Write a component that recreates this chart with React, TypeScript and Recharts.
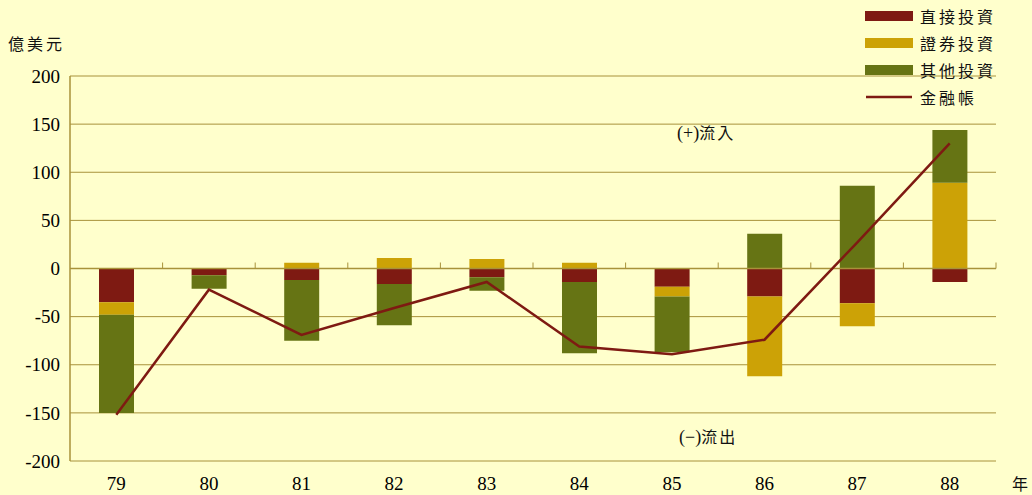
import {
    ComposedChart,
    Bar,
    Line,
    XAxis,
    YAxis,
    CartesianGrid,
    ReferenceLine
} from 'recharts';

const years = ['79', '80', '81', '82', '83', '84', '85', '86', '87', '88'];
const directInv = [-35, -7, -12, -16, -9, -14, -19, -29, -36, -14];
const portfolioInv = [-13, 0, 6, 11, 10, 6, -10, -83, -24, 89];
const otherInv = [-102, -14, -63, -43, -14, -74, -58, 36, 86, 55];
const financialAcct = [-152, -22, -69, -41, -14, -81, -89, -74, 27, 130];
const yTicks = [-200, -150, -100, -50, 0, 50, 100, 150, 200];

const BG = '#FFFFCC';
const RED = '#7E1A12';
const GOLD = '#CCA206';
const OLIVE = '#667414';
const GRID = '#A8923A';
const SERIF = "'Liberation Serif', 'Times New Roman', 'DejaVu Serif', serif";
const CJK = "'Noto Sans CJK TC', 'Noto Sans CJK SC', sans-serif";

const data = years.map((y, i) => ({
    year: y,
    direct: directInv[i],
    portfolio: portfolioInv[i],
    other: otherInv[i],
    total: financialAcct[i]
}));

const legendItems = [
    { label: '直接投資', color: RED, kind: 'rect' },
    { label: '證券投資', color: GOLD, kind: 'rect' },
    { label: '其他投資', color: OLIVE, kind: 'rect' },
    { label: '金融帳', color: RED, kind: 'line' }
];

function LegendBox() {
    return (
        <div style={{ position: 'absolute', left: 865, top: 2, display: 'flex', flexDirection: 'column' }}>
            {legendItems.map((it) => (
                <div key={it.label} style={{ display: 'flex', alignItems: 'center', height: 27 }}>
                    <svg width={55} height={14}>
                        {it.kind === 'rect' ? (
                            <rect x={0} y={2} width={48} height={10} fill={it.color} />
                        ) : (
                            <line x1={1} y1={7} x2={47} y2={7} stroke={it.color} strokeWidth={2.5} />
                        )}
                    </svg>
                    <span style={{ fontFamily: CJK, fontSize: 16, color: '#111', letterSpacing: 3 }}>{it.label}</span>
                </div>
            ))}
        </div>
    );
}

// zero line with small upward ticks at each category boundary
function ZeroLine(props: any) {
    const { x1, y1, x2, y2 } = props;
    const n = years.length;
    const step = (x2 - x1) / n;
    const ticks = [];
    for (let i = 1; i <= n; i++) {
        const x = x1 + step * i;
        ticks.push(<line key={i} x1={x} y1={y1} x2={x} y2={y1 - 6} stroke={GRID} strokeWidth={1} />);
    }
    return (
        <g>
            <line x1={x1} y1={y1} x2={x2} y2={y2} stroke={GRID} strokeWidth={1.5} />
            {ticks}
        </g>
    );
}

export default function App() {
    return (
        <div style={{ position: 'fixed', left: 0, top: 0, width: 1032, height: 495, background: BG, fontFamily: SERIF }}>
            <style>{`
        .recharts-cartesian-axis-tick-value { font-family: ${SERIF}; }
      `}</style>
            <ComposedChart
                width={1032}
                height={495}
                data={data}
                stackOffset="sign"
                margin={{ top: 76, right: 36, left: 0, bottom: 0 }}
            >
                <CartesianGrid horizontal vertical={false} stroke={GRID} strokeWidth={1} />
                <XAxis
                    dataKey="year"
                    axisLine={false}
                    tickLine={false}
                    height={34}
                    tick={{ fill: '#000', fontSize: 19, dy: 8 }}
                    interval={0}
                />
                <YAxis
                    domain={[-200, 200]}
                    ticks={yTicks}
                    width={70}
                    axisLine={{ stroke: GRID, strokeWidth: 1.5 }}
                    tickLine={false}
                    tick={{ fill: '#000', fontSize: 19, dx: -2 }}
                />
                <Bar dataKey="direct" stackId="s" fill={RED} barSize={35} isAnimationActive={false} />
                <Bar dataKey="portfolio" stackId="s" fill={GOLD} barSize={35} isAnimationActive={false} />
                <Bar dataKey="other" stackId="s" fill={OLIVE} barSize={35} isAnimationActive={false} />
                <ReferenceLine y={0} shape={ZeroLine} />
                <Line
                    type="linear"
                    dataKey="total"
                    stroke={RED}
                    strokeWidth={2.5}
                    dot={false}
                    activeDot={false}
                    isAnimationActive={false}
                />
            </ComposedChart>
            <LegendBox />
            <div style={{ position: 'absolute', left: 8, top: 31, fontFamily: CJK, fontSize: 16, letterSpacing: 3, color: '#111' }}>億美元</div>
            <div style={{ position: 'absolute', left: 1012, top: 471, fontFamily: CJK, fontSize: 16, color: '#111' }}>年</div>
            <div style={{ position: 'absolute', left: 677, top: 120, fontFamily: SERIF, fontSize: 18, color: '#111' }}>
                (+)<span style={{ fontFamily: CJK, fontSize: 16, letterSpacing: 2 }}>流入</span>
            </div>
            <div style={{ position: 'absolute', left: 679, top: 424, fontFamily: SERIF, fontSize: 18, color: '#111' }}>
                (−)<span style={{ fontFamily: CJK, fontSize: 16, letterSpacing: 2 }}>流出</span>
            </div>
        </div>
    );
}
